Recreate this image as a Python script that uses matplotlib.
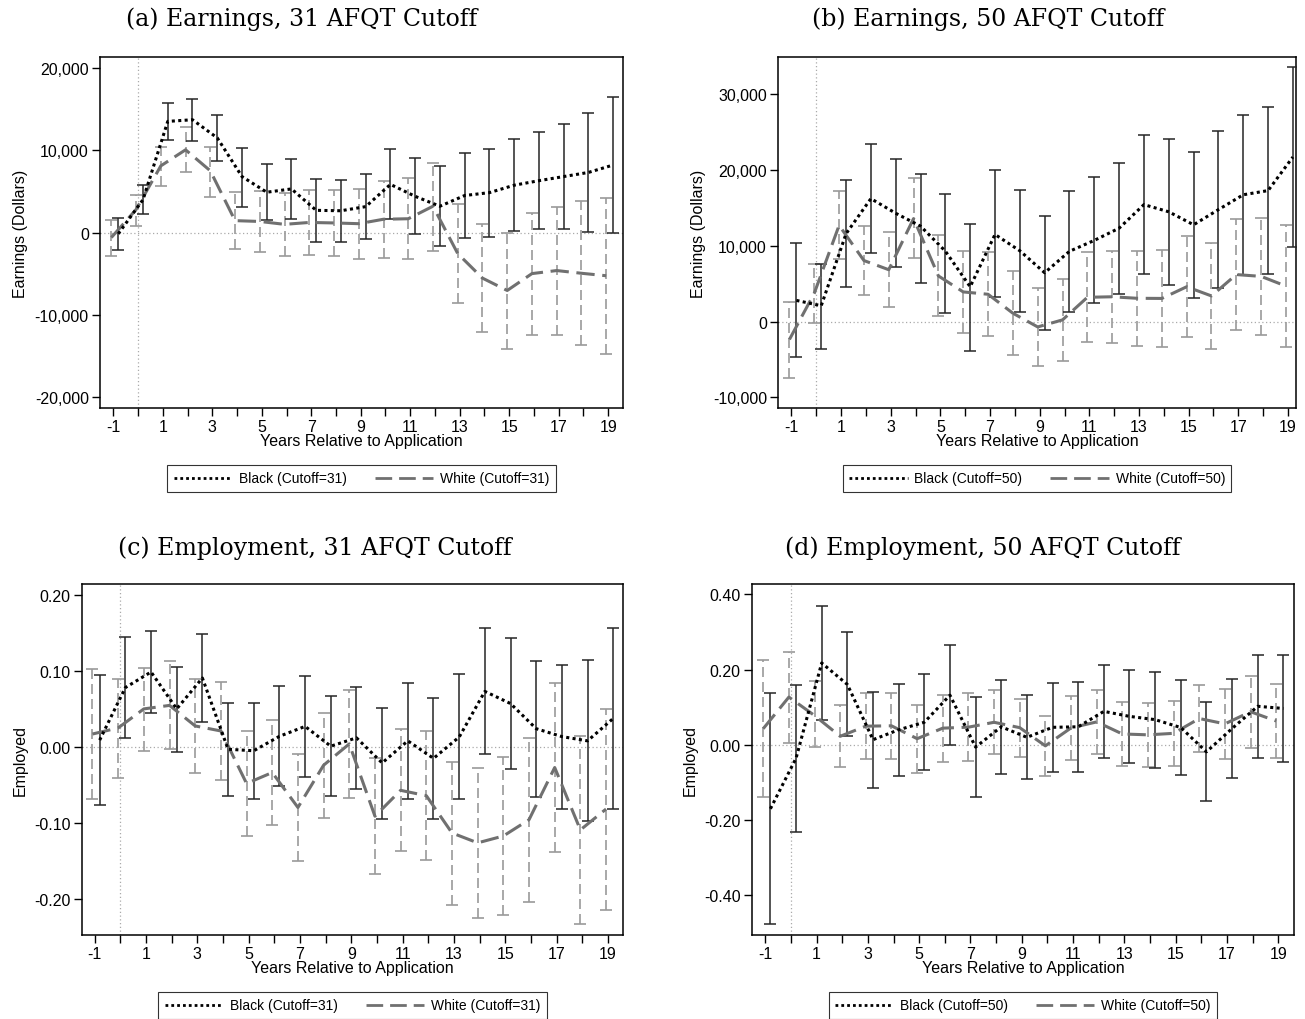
import matplotlib
matplotlib.use("Agg")
import matplotlib.pyplot as plt
import numpy as np
from matplotlib.lines import Line2D
from matplotlib.ticker import FuncFormatter

plt.rcParams['font.family'] = ['Liberation Sans', 'DejaVu Sans']

years = np.arange(-1, 20)

# (a) earnings, cutoff 31
a_black = [-150, 4000, 13500, 13700, 11500, 6800, 4900, 5300, 2700, 2650, 3150,
           5850, 4400, 3200, 4500, 4850, 5750, 6300, 6800, 7300, 8200]
a_black_lo = [-2060, 2310, 11300, 11170, 8740, 3100, 1580, 1700, -1090, -1130, -810,
              1620, -200, -1660, -650, -490, 160, 400, 400, 40, -40]
a_black_hi = [1740, 5790, 15790, 16230, 14290, 10300, 8300, 8950, 6480, 6440, 7090,
              10160, 9030, 8100, 9680, 10200, 11380, 12270, 13200, 14530, 16480]
a_white = [-600, 2800, 8100, 10050, 7500, 1450, 1350, 1000, 1230, 1170, 1080,
           1620, 1680, 3200, -2550, -5530, -7030, -4980, -4610, -4940, -5240]
a_white_lo = [-2790, 770, 5710, 7370, 4300, -2020, -2350, -2870, -2710, -2830, -3240,
              -3040, -3240, -2190, -8500, -12060, -14090, -12390, -12390, -13680, -14740]
a_white_hi = [1540, 4570, 10400, 12830, 10400, 4940, 5060, 4860, 5180, 5180, 5340,
              6280, 6600, 8500, 3520, 1010, 0, 2430, 3160, 3810, 4250]

# (b) earnings, cutoff 50
b_black = [2800, 2100, 11600, 16230, 14300, 12600, 9300, 4600, 11500, 9350, 6450,
           9280, 10720, 12330, 15440, 14490, 12780, 14780, 16740, 17290, 21720]
b_black_lo = [-4710, -3610, 4540, 9030, 7180, 5070, 1150, -3830, 3220, 1320, -1060,
              1320, 2420, 3610, 6300, 4890, 3080, 4410, 6170, 6260, 9820]
b_black_hi = [10350, 7620, 18630, 23480, 21410, 19520, 16870, 12820, 19960, 17360, 13880,
              17180, 19070, 20970, 24630, 24100, 22420, 25150, 27310, 28330, 33610]
b_white = [-2350, 3750, 12700, 8060, 6850, 13600, 6030, 3920, 3610, 1110, -700,
           230, 3210, 3280, 3080, 3060, 4600, 3390, 6210, 5970, 4690]
b_white_lo = [-7490, -220, 8280, 3520, 1890, 8410, 700, -1540, -1940, -4410, -5810,
              -5240, -2730, -2820, -3170, -3300, -2070, -3610, -1100, -1760, -3390]
b_white_hi = [2640, 7620, 17180, 12600, 11810, 18990, 11370, 9380, 9160, 6650, 4410,
              5640, 9160, 9380, 9340, 9430, 11280, 10400, 13520, 13700, 12780]

# (c) employment, cutoff 31
c_black = [0.009, 0.078, 0.0985, 0.050, 0.0906, -0.003, -0.005, 0.014, 0.027, 0.001, 0.012,
           -0.021, 0.008, -0.015, 0.013, 0.073, 0.057, 0.024, 0.0136, 0.008, 0.0375]
c_black_lo = [-0.0768, 0.0123, 0.0443, -0.0061, 0.0333, -0.0645, -0.068, -0.0513, -0.039, -0.0649, -0.0548,
              -0.0943, -0.068, -0.0943, -0.0689, -0.0096, -0.0294, -0.0654, -0.0811, -0.0978, -0.0816]
c_black_hi = [0.0947, 0.1439, 0.1526, 0.1057, 0.1478, 0.0583, 0.0579, 0.0798, 0.0934, 0.0671, 0.0789,
              0.0518, 0.0842, 0.064, 0.0952, 0.1557, 0.143, 0.1127, 0.1083, 0.114, 0.1566]
c_white = [0.017, 0.025, 0.050, 0.0546, 0.0276, 0.021, -0.048, -0.0336, -0.0795, -0.024, 0.004,
           -0.091, -0.057, -0.064, -0.113, -0.126, -0.117, -0.0956, -0.027, -0.109, -0.0816]
c_white_lo = [-0.0689, -0.0404, -0.0048, -0.0031, -0.0338, -0.0439, -0.117, -0.103, -0.150, -0.093, -0.0675,
              -0.1675, -0.137, -0.149, -0.207, -0.225, -0.2206, -0.2035, -0.138, -0.233, -0.2136]
c_white_hi = [0.1026, 0.0899, 0.104, 0.1123, 0.089, 0.0855, 0.021, 0.036, -0.0088, 0.045, 0.075,
              -0.014, 0.023, 0.021, -0.0197, -0.027, -0.0132, 0.0123, 0.0842, 0.0145, 0.0504]

# (d) employment, cutoff 50
d_black = [-0.170, -0.0355, 0.2177, 0.1605, 0.0137, 0.040, 0.060, 0.132, -0.006, 0.048, 0.020,
           0.0466, 0.048, 0.089, 0.0757, 0.067, 0.046, -0.0186, 0.0435, 0.1025, 0.0967]
d_black_lo = [-0.477, -0.2306, 0.0656, 0.0222, -0.1135, -0.0825, -0.0674, -0.0009, -0.138, -0.0763, -0.0914,
              -0.071, -0.0718, -0.0337, -0.0488, -0.0603, -0.0807, -0.150, -0.0887, -0.0337, -0.0452]
d_black_hi = [0.1366, 0.1596, 0.370, 0.299, 0.141, 0.163, 0.188, 0.265, 0.126, 0.173, 0.132,
              0.164, 0.1676, 0.212, 0.200, 0.195, 0.173, 0.1126, 0.1756, 0.2386, 0.2386]
d_white = [0.043, 0.127, 0.078, 0.0227, 0.0497, 0.0506, 0.0164, 0.0444, 0.047, 0.060, 0.0457,
           -0.0027, 0.045, 0.061, 0.029, 0.0266, 0.0306, 0.070, 0.0558, 0.088, 0.0634]
d_white_lo = [-0.140, 0.0062, -0.0053, -0.060, -0.038, -0.038, -0.0736, -0.0443, -0.0426, -0.0248, -0.032,
              -0.0825, -0.041, -0.0248, -0.056, -0.0585, -0.056, -0.0186, -0.0364, -0.0071, -0.0337]
d_white_hi = [0.226, 0.248, 0.170, 0.1055, 0.1375, 0.139, 0.1064, 0.133, 0.1366, 0.1455, 0.123,
              0.077, 0.130, 0.146, 0.114, 0.112, 0.117, 0.159, 0.148, 0.1836, 0.1605]

panels = [
    dict(rect=[0.0766, 0.599, 0.4008, 0.344], title="(a) Earnings, 31 AFQT Cutoff", tx=0.231, ty=0.981,
         black=(a_black, a_black_lo, a_black_hi), white=(a_white, a_white_lo, a_white_hi),
         ylim=(-21300, 21300), yticks=[-20000, -10000, 0, 10000, 20000], ylabel="Earnings (Dollars)",
         xlim=(-1.54, 19.6), cut=31, money=True),
    dict(rect=[0.5962, 0.599, 0.397, 0.344], title="(b) Earnings, 50 AFQT Cutoff", tx=0.757, ty=0.981,
         black=(b_black, b_black_lo, b_black_hi), white=(b_white, b_white_lo, b_white_hi),
         ylim=(-11400, 34900), yticks=[-10000, 0, 10000, 20000, 30000], ylabel="Earnings (Dollars)",
         xlim=(-1.54, 19.33), cut=50, money=True),
    dict(rect=[0.0628, 0.0824, 0.4146, 0.344], title="(c) Employment, 31 AFQT Cutoff", tx=0.241, ty=0.463,
         black=(c_black, c_black_lo, c_black_hi), white=(c_white, c_white_lo, c_white_hi),
         ylim=(-0.247, 0.214), yticks=[-0.2, -0.1, 0.0, 0.1, 0.2], ylabel="Employed",
         xlim=(-1.49, 19.58), cut=31, money=False),
    dict(rect=[0.5762, 0.0824, 0.4153, 0.344], title="(d) Employment, 50 AFQT Cutoff", tx=0.753, ty=0.463,
         black=(d_black, d_black_lo, d_black_hi), white=(d_white, d_white_lo, d_white_hi),
         ylim=(-0.5055, 0.4275), yticks=[-0.4, -0.2, 0.0, 0.2, 0.4], ylabel="Employed",
         xlim=(-1.52, 19.61), cut=50, money=False),
]

fig = plt.figure(figsize=(13.05, 10.2), dpi=100)

for p in panels:
    ax = fig.add_axes(p['rect'])
    ax.axhline(0, color='#aaaaaa', lw=0.9, ls=(0, (1, 2)), zorder=0)
    ax.axvline(0, color='#aaaaaa', lw=0.9, ls=(0, (1, 2)), zorder=0)

    wv, wlo, whi = [np.array(v) for v in p['white']]
    bv, blo, bhi = [np.array(v) for v in p['black']]
    xw = years - 0.08
    xb = years + 0.2

    # white: dashed CI bars
    eb = ax.errorbar(xw, wv, yerr=[wv - wlo, whi - wv], fmt='none', ecolor='#9a9a9a',
                     elinewidth=1.2, capsize=4, capthick=1.2, zorder=2)
    eb[2][0].set_linestyle((0, (6, 3)))
    ax.plot(xw, wv, color='#707070', lw=2.2, ls=(0, (6, 2.5)), zorder=4)

    # black: solid CI bars
    ax.errorbar(xb, bv, yerr=[bv - blo, bhi - bv], fmt='none', ecolor='#262626',
                elinewidth=1.1, capsize=4, capthick=1.1, zorder=3)
    ax.plot(xb, bv, color='black', lw=2.2, ls=(0, (1, 1.1)), zorder=5)

    ax.set_xlim(*p['xlim'])
    ax.set_ylim(*p['ylim'])
    ax.set_xticks(years)
    ax.set_xticklabels([str(y) if y % 2 else '' for y in years])
    ax.set_yticks(p['yticks'])
    if p['money']:
        ax.yaxis.set_major_formatter(FuncFormatter(lambda v, pos: f"{int(v):,}"))
    else:
        ax.yaxis.set_major_formatter(FuncFormatter(lambda v, pos: f"{v:.2f}"))
    ax.tick_params(direction='out', length=6, width=1, labelsize=11.5, pad=2)
    for s in ax.spines.values():
        s.set_linewidth(1.1)
    ax.set_xlabel("Years Relative to Application", fontsize=11.5, labelpad=-1)
    ax.set_ylabel(p['ylabel'], fontsize=11.5, labelpad=5)

    handles = [Line2D([], [], color='black', lw=2, ls=(0, (1, 1.1))),
               Line2D([], [], color='#707070', lw=2, ls=(0, (6, 2.5)))]
    labels = [f"Black (Cutoff={p['cut']})", f"White (Cutoff={p['cut']})"]
    leg = ax.legend(handles, labels, loc='upper center', bbox_to_anchor=(0.5, -0.163), ncol=2,
                    fontsize=10, frameon=True, fancybox=False, edgecolor='black',
                    handlelength=4.2, columnspacing=2.0, borderpad=0.45, handletextpad=0.5,
                    borderaxespad=0)
    leg.get_frame().set_linewidth(0.8)

    fig.text(p['tx'], p['ty'], p['title'], ha='center', va='center', fontsize=17,
             family=['DejaVu Serif'])

fig.savefig("out.png", dpi=100)
